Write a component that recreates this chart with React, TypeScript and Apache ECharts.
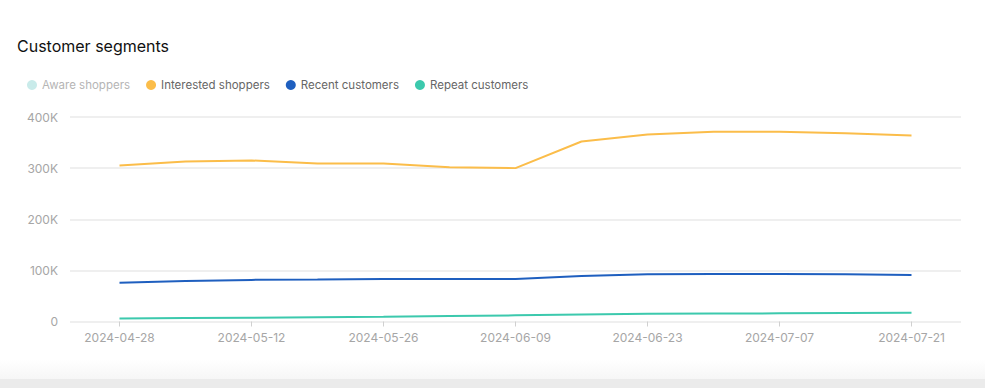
import React, { useEffect, useRef } from "react";
import * as echarts from "echarts";

const weeks = [
  "2024-04-28", "2024-05-05", "2024-05-12", "2024-05-19", "2024-05-26",
  "2024-06-02", "2024-06-09", "2024-06-16", "2024-06-23", "2024-06-30",
  "2024-07-07", "2024-07-14", "2024-07-21",
];
const labelWeeks = [0, 2, 4, 6, 8, 10, 12];

// Aware shoppers is toggled off in the reference, so no values are visible
const awareShoppers: number[] = [];
const interestedShoppers = [
  305000, 313000, 315000, 309000, 309000, 301500, 300000,
  352000, 366000, 371000, 371000, 368000, 364000,
];
const recentCustomers = [
  76000, 79400, 81400, 82000, 83300, 83000, 83000,
  89000, 92500, 93000, 93000, 92500, 91000,
];
const repeatCustomers = [
  6000, 6700, 7500, 8500, 9500, 10800, 12000,
  13500, 15000, 15500, 16000, 16500, 17000,
];
const yTicks = [0, 100000, 200000, 300000, 400000];

const colors = {
  aware: "#c9ebea",
  interested: "#fbbd4a",
  recent: "#1f5fbf",
  repeat: "#3cc9ad",
};

const toPairs = (arr: number[]) => arr.map((v, i) => [i, v]);

export default function App() {
  const ref = useRef<HTMLDivElement>(null);
  useEffect(() => {
    if (!ref.current) return;
    const chart = echarts.init(ref.current, null, { renderer: "svg" });
    const font = "Inter, 'Noto Sans', sans-serif";
    chart.setOption({
      animation: false,
      textStyle: { fontFamily: font },
      title: {
        text: "Customer segments",
        left: 12,
        top: 33,
        textStyle: { fontSize: 16, fontWeight: "normal", color: "#111", fontFamily: font },
      },
      legend: {
        left: 22,
        top: 74,
        icon: "circle",
        itemWidth: 10,
        itemHeight: 10,
        itemGap: 16,
        textStyle: { fontSize: 11.5, color: "#666", fontFamily: font },
        data: [
          { name: "Aware shoppers", textStyle: { color: "#b5b5b5" } },
          { name: "Interested shoppers" },
          { name: "Recent customers" },
          { name: "Repeat customers" },
        ],
      },
      grid: { left: 70, right: 24, top: 117, bottom: 66.5 },
      xAxis: {
        type: "value",
        min: -0.75,
        max: 12.75,
        splitLine: { show: false },
        axisLine: { show: false },
        axisTick: {
          show: true,
          customValues: labelWeeks,
          length: 5,
          lineStyle: { color: "#d0d0d0" },
        },
        axisLabel: {
          customValues: labelWeeks,
          formatter: (v: number) => weeks[Math.round(v)] ?? "",
          color: "#a6a6a6",
          fontSize: 12,
          margin: 10,
          fontFamily: font,
        },
      },
      yAxis: {
        type: "value",
        min: yTicks[0],
        max: yTicks[yTicks.length - 1],
        interval: 100000,
        axisLine: { show: false },
        axisTick: { show: false },
        splitLine: { lineStyle: { color: "#efefef", width: 2 } },
        axisLabel: {
          color: "#a6a6a6",
          fontSize: 12,
          margin: 12,
          fontFamily: font,
          formatter: (v: number) => (v === 0 ? "0" : v / 1000 + "K"),
        },
      },
      series: [
        {
          name: "Aware shoppers",
          type: "line",
          data: toPairs(awareShoppers),
          itemStyle: { color: colors.aware },
          lineStyle: { color: colors.aware, width: 2 },
          showSymbol: false,
        },
        {
          name: "Interested shoppers",
          type: "line",
          data: toPairs(interestedShoppers),
          itemStyle: { color: colors.interested },
          lineStyle: { color: colors.interested, width: 2 },
          showSymbol: false,
        },
        {
          name: "Recent customers",
          type: "line",
          data: toPairs(recentCustomers),
          itemStyle: { color: colors.recent },
          lineStyle: { color: colors.recent, width: 2 },
          showSymbol: false,
        },
        {
          name: "Repeat customers",
          type: "line",
          data: toPairs(repeatCustomers),
          itemStyle: { color: colors.repeat },
          lineStyle: { color: colors.repeat, width: 2 },
          showSymbol: false,
        },
      ],
    });
    return () => chart.dispose();
  }, []);

  return (
    <div
      style={{
        position: "fixed",
        left: 0,
        top: 0,
        width: 985,
        height: 388,
        background: "#ebebeb",
        overflow: "hidden",
      }}
    >
      <div
        style={{
          position: "absolute",
          left: 0,
          top: 0,
          width: 985,
          height: 379,
          background: "linear-gradient(to bottom, #ffffff 0px, #ffffff 360px, #f6f6f6 379px)",
        }}
      >
        <div ref={ref} style={{ width: 985, height: 388 }} />
      </div>
    </div>
  );
}
